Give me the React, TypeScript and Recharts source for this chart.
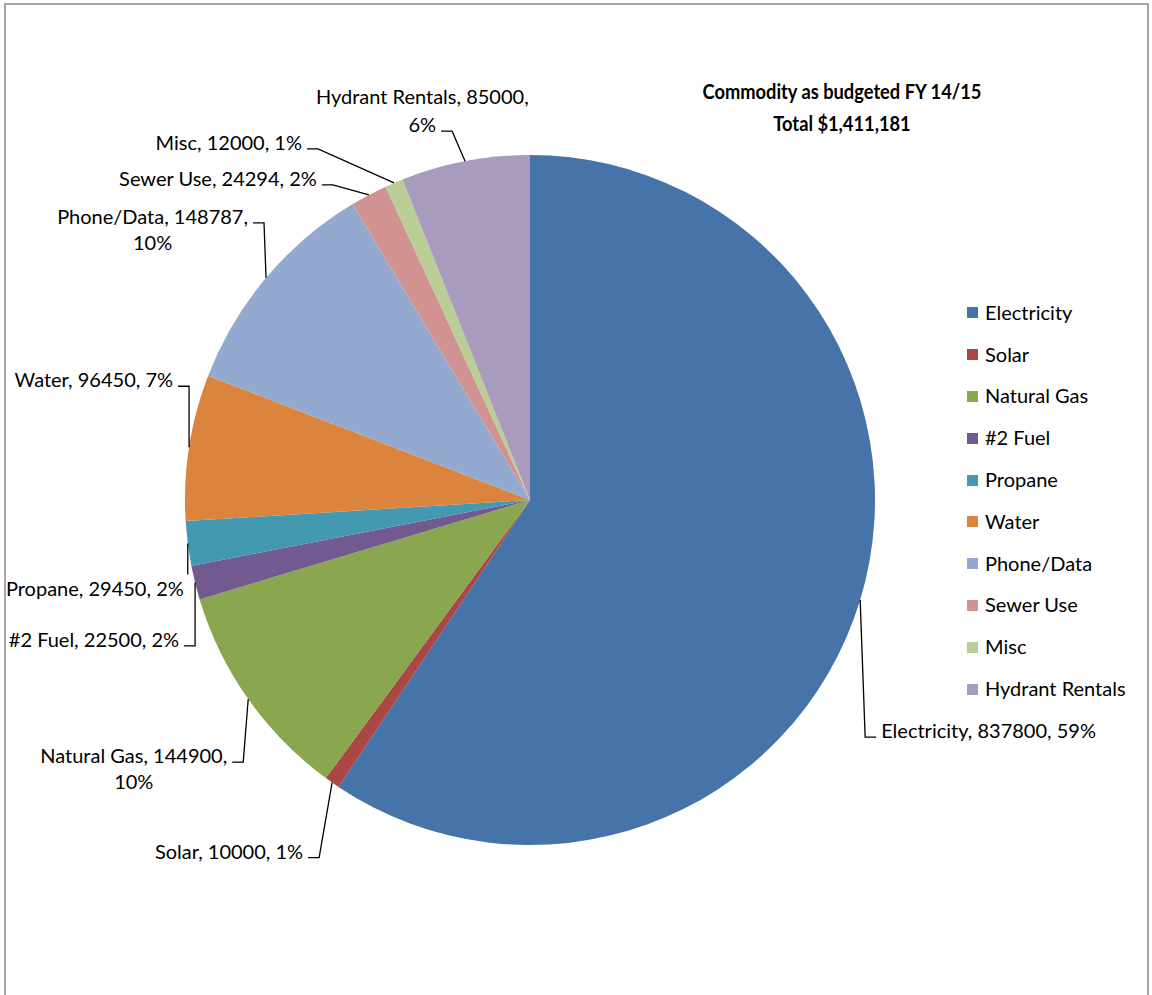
import { Legend, Pie, PieChart } from "recharts"

const names = ["Electricity", "Solar", "Natural Gas", "#2 Fuel", "Propane", "Water", "Phone/Data", "Sewer Use", "Misc", "Hydrant Rentals"]
const values = [837800, 10000, 144900, 22500, 29450, 96450, 148787, 24294, 12000, 85000]
const colors = ["#4674A8", "#AA4644", "#8AA64F", "#725990", "#4299B0", "#DB843D", "#93A9CF", "#D09392", "#B9CD97", "#A99BBD"]

const FONT = "Lato, 'Open Sans', sans-serif"
const FONT_SIZE = 20

// excel style percentages: rounded so they add to 100
function roundedPercents(vals: number[]) {
  const total = vals.reduce((a, b) => a + b, 0)
  const raw = vals.map((v) => (v / total) * 100)
  const out = raw.map((r) => Math.floor(r))
  let left = 100 - out.reduce((a, b) => a + b, 0)
  const order = raw.map((r, i) => ({ i, rem: r - Math.floor(r) })).sort((a, b) => b.rem - a.rem)
  for (let k = 0; k < left; k++) out[order[k].i] += 1
  return out
}
const percents = roundedPercents(values)

const data = names.map((name, i) => ({ name, value: values[i], fill: colors[i] }))

// where each leader line bends, relative to the slice edge
const leaders = [
  { dx: 5, dy: 137, side: "right" },
  { dx: -13, dy: 75, side: "left" },
  { dx: -5, dy: 63, side: "left", wrap: "first" },
  { dx: 0, dy: 63, side: "left" },
  { dx: 0, dy: 31, side: "below" },
  { dx: 0, dy: -61, side: "left" },
  { dx: -2, dy: -55, side: "left", wrap: "first" },
  { dx: -36, dy: -10, side: "left" },
  { dx: -76, dy: -34, side: "left" },
  { dx: -13, dy: -30, side: "left", wrap: "last" },
]

let ctx: CanvasRenderingContext2D | null = null
function textWidth(s: string) {
  if (!ctx) {
    ctx = document.createElement("canvas").getContext("2d")
  }
  if (!ctx) return s.length * 9
  ctx.font = `${FONT_SIZE}px Lato`
  return ctx.measureText(s).width
}

function renderLabel(props: any) {
  const { cx, cy, midAngle, outerRadius, index } = props
  const rad = (-midAngle * Math.PI) / 180
  const x0 = cx + outerRadius * Math.cos(rad)
  const y0 = cy + outerRadius * Math.sin(rad)
  const L: any = leaders[index]
  const ex = x0 + L.dx
  const ey = y0 + L.dy
  const hook = 11
  const gap = 5
  const full = `${names[index]}, ${values[index]}, ${percents[index]}%`
  const first = `${names[index]}, ${values[index]},`
  const second = `${percents[index]}%`
  const tstyle = { fontFamily: FONT, fontSize: FONT_SIZE, fill: "#000" }
  const lineProps = { stroke: "#000", strokeWidth: 1.3, fill: "none" }

  if (L.side === "right") {
    return (
      <g key={`lbl-${index}`}>
        <path d={`M${x0},${y0}L${ex},${ey}L${ex + hook},${ey}`} {...lineProps} />
        <text x={ex + hook + gap} y={ey + 1} textAnchor="start" style={tstyle}>{full}</text>
      </g>
    )
  }
  if (L.side === "below") {
    return (
      <g key={`lbl-${index}`}>
        <path d={`M${x0},${y0}L${ex},${ey}`} {...lineProps} />
        <text x={ex - 4} y={ey + 21} textAnchor="end" style={tstyle}>{full}</text>
      </g>
    )
  }
  const tx = ex - hook - gap
  let texts
  if (L.wrap === "first") {
    const w = textWidth(first)
    texts = (
      <>
        <text x={tx} y={ey + 1} textAnchor="end" style={tstyle}>{first}</text>
        <text x={tx - w / 2} y={ey + 27} textAnchor="middle" style={tstyle}>{second}</text>
      </>
    )
  } else if (L.wrap === "last") {
    const w = textWidth(second)
    texts = (
      <>
        <text x={tx - w / 2} y={ey - 27} textAnchor="middle" style={tstyle}>{first}</text>
        <text x={tx} y={ey + 1} textAnchor="end" style={tstyle}>{second}</text>
      </>
    )
  } else {
    texts = <text x={tx} y={ey + 1} textAnchor="end" style={tstyle}>{full}</text>
  }
  return (
    <g key={`lbl-${index}`}>
      <path d={`M${x0},${y0}L${ex},${ey}L${ex - hook},${ey}`} {...lineProps} />
      {texts}
    </g>
  )
}

function LegendList(props: any) {
  const items = [...(props.payload || [])].sort(
    (a: any, b: any) => names.indexOf(a.value) - names.indexOf(b.value)
  )
  return (
    <div style={{ fontFamily: FONT, fontSize: FONT_SIZE, color: "#000" }}>
      {items.map((p: any) => (
        <div key={p.value} style={{ height: 41.8, display: "flex", alignItems: "center" }}>
          <span style={{ width: 11, height: 11, background: p.color, marginRight: 7, marginTop: 2, flex: "none" }} />
          <span>{p.value}</span>
        </div>
      ))}
    </div>
  )
}

export default function App() {
  return (
    <div style={{ position: "absolute", left: 0, top: 0, width: 1152, height: 995, overflow: "hidden", background: "#fff" }}>
      <div
        style={{
          position: "absolute",
          left: 4,
          top: 3,
          width: 1145,
          height: 1000,
          boxSizing: "border-box",
          border: "2px solid #a6a6a6",
          borderBottom: "none",
        }}
      />
      <div
        style={{
          position: "absolute",
          left: 642,
          top: 75,
          width: 400,
          textAlign: "center",
          fontFamily: FONT,
          fontWeight: 700,
          fontSize: 21,
          lineHeight: "32px",
          color: "#000",
          transform: "scaleX(0.87)",
          transformOrigin: "50% 50%",
        }}
      >
        <div>Commodity as budgeted FY 14/15</div>
        <div>Total $1,411,181</div>
      </div>
      <PieChart width={1152} height={995} margin={{ top: 0, right: 0, bottom: 0, left: 0 }}>
        <Pie
          data={data}
          dataKey="value"
          nameKey="name"
          cx={530}
          cy={500}
          outerRadius={345}
          startAngle={90}
          endAngle={-270}
          stroke="none"
          label={renderLabel}
          labelLine={false}
          isAnimationActive={false}
        />
        <Legend
          layout="vertical"
          align="right"
          verticalAlign="top"
          itemSorter={null as any}
          content={<LegendList />}
          wrapperStyle={{ left: 967, top: 291, width: 180 }}
        />
      </PieChart>
    </div>
  )
}
